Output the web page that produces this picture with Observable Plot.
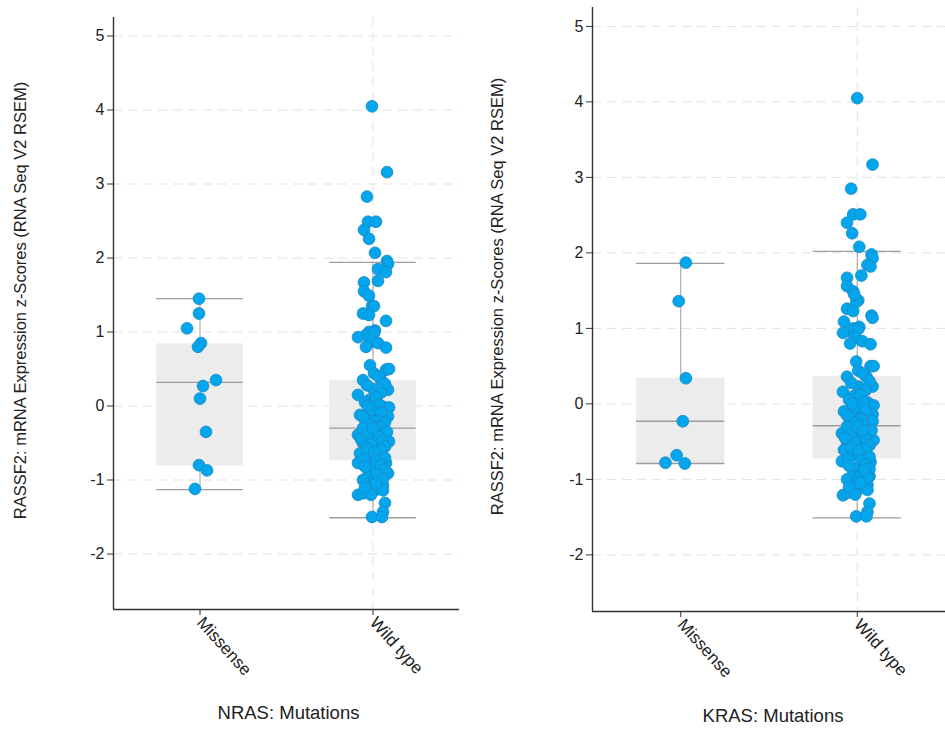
<!DOCTYPE html>
<html>
<head>
<meta charset="utf-8">
<script src="https://cdn.jsdelivr.net/npm/d3@7"></script>
<script src="https://cdn.jsdelivr.net/npm/@observablehq/plot@0.6"></script>
<style>
  body { margin: 0; background: #fff; }
  #wrap { position: relative; width: 945px; height: 739px; font-family: "Liberation Sans", Arial, sans-serif; }
  #wrap > svg { position: absolute; top: 0; }
</style>
</head>
<body>
<div id="wrap"></div>
<script>
// ---------- data ----------
const categories = ["Missense", "Wild type"];
const yTicks = [-2, -1, 0, 1, 2, 3, 4, 5];
const yLabel = "RASSF2: mRNA Expression z-Scores (RNA Seq V2 RSEM)";
const panelTitles = ["NRAS: Mutations", "KRAS: Mutations"];
const gridCategories = ["Wild type"];

// NRAS panel
const nrasMissense = [1.45, 1.25, 1.05, 0.85, 0.80, 0.35, 0.27, 0.10, -0.35, -0.80, -0.87, -1.12];
const nrasMissenseJitter = [-1, -1, -13, 1, -2, 16, 3, 0, 6, -1, 7, -5];
const nrasWild = [4.05, 3.16, 2.83, 2.49, 2.49, 2.38, 2.26, 2.07, 1.96, 1.92,
  1.85, 1.81, 1.69, 1.67, 1.55, 1.49, 1.35, 1.35, 1.25, 1.23,
  1.15, 1.02, 1.00, 0.96, 0.93, 0.99, 0.87, 0.85, 0.80, 0.79,
  0.55, 0.44, 0.49, 0.50, 0.35, 0.35, 0.22, 0.23, 0.15, 0.08,
  -0.01, -0.02, -0.12, -0.10, -0.14, -0.39, -0.32, -0.39, -0.44, -0.50,
  -0.55, -0.48, -0.64, -0.68, -0.66, -0.77, -0.77, -0.84, -0.89, -0.91,
  -0.95, -1.02, -1.07, -1.09, -1.14, -1.14, -1.20, -1.18, -1.20, -1.31,
  -1.43, -1.50, -1.50,
  0.40, 0.30, 0.28, 0.18, 0.12, 0.05, 0.02, -0.05, -0.08, -0.18,
  -0.20, -0.22, -0.25, -0.28, -0.30, -0.33, -0.35, -0.40, -0.42, -0.45,
  -0.47, -0.52, -0.55, -0.58, -0.60, -0.62, -0.70, -0.72, -0.75, -0.80,
  -0.82, -0.86, -0.93, -0.98, -1.00, -1.05, -1.10, -0.30, -0.15, 0.00];
const nrasWildJitter = [-1, 14, -6, -5, 3, -9, -4, 2, 14, 15,
  5, 13, 5, -9, -9, -4, -1, 1, -10, -4,
  13, 2, -4, -7, -15, 1, -2, 5, -7, 13,
  -3, 1, 13, 16, -10, 8, 15, 0, -15, -4,
  10, 16, -13, 1, 15, -15, -5, 11, 1, -10,
  4, 16, -13, -4, 6, -15, 13, -2, 8, 15,
  -5, 0, 10, -5, 2, 10, -15, -10, -2, 12,
  10, -1, 9,
  6, 12, -6, 8, 3, -8, 6, -2, 8, -8,
  4, 12, -3, 7, -10, 2, 14, -6, 6, -12,
  9, -2, 12, -6, 8, 1, 12, -9, 4, 8,
  -8, 12, 4, 10, -10, 3, -8, 0, -10, -5];
const nrasQ1 = [-0.81, -0.74];
const nrasMedian = [0.32, -0.30];
const nrasQ3 = [0.84, 0.34];
const nrasLow = [-1.13, -1.51];
const nrasHigh = [1.45, 1.94];

// KRAS panel
const krasMissense = [1.87, 1.36, 0.34, -0.23, -0.68, -0.78, -0.79];
const krasMissenseJitter = [5, -2, 5, 2, -4, -15, 4];
const krasWild = [4.05, 3.17, 2.85, 2.51, 2.51, 2.40, 2.26, 2.08, 1.98, 1.93,
  1.84, 1.82, 1.70, 1.67, 1.56, 1.49, 1.37, 1.35, 1.26, 1.23,
  1.17, 1.02, 1.00, 0.96, 0.94, 0.99, 0.87, 0.83, 0.80, 0.79,
  0.56, 0.44, 0.50, 0.50, 0.36, 0.36, 0.23, 0.23, 0.16, 0.10,
  0.02, -0.02, -0.10, -0.10, -0.14, -0.39, -0.32, -0.39, -0.44, -0.50,
  -0.55, -0.48, -0.61, -0.68, -0.66, -0.76, -0.77, -0.85, -0.89, -0.96,
  -0.95, -1.02, -1.07, -1.12, -1.12, -1.14, -1.21, -1.18, -1.20, -1.32,
  -1.43, -1.49, -1.49,
  0.40, 0.30, 0.28, 0.18, 0.12, 0.05, 0.02, -0.05, -0.08, -0.18,
  -0.20, -0.23, -0.25, -0.28, -0.30, -0.33, -0.35, -0.40, -0.42, -0.45,
  -0.47, -0.52, -0.55, -0.58, -0.60, -0.62, -0.70, -0.72, -0.75, -0.80,
  -0.82, -0.86, -0.93, -0.98, -1.00, -1.05, -1.10, -0.30, -0.15, 0.00,
  1.45, 1.09, 1.14, -0.35, -0.87];
const krasWildJitter = [0, 15, -6, -4, 3, -10, -5, 2, 14, 15,
  10, 13, 4, -10, -10, -4, 1, -1, -10, -4,
  14, 2, -4, -7, -14, 1, -2, 5, -7, 13,
  -1, 1, 13, 16, -10, 9, 15, 1, -14, -4,
  10, 16, -13, 1, 15, -15, -5, 11, 1, -10,
  4, 16, -13, -4, 6, -15, 13, -2, 8, 12,
  -5, 0, 10, -5, 2, 10, -14, -10, -2, 12,
  10, -1, 9,
  6, 12, -6, 8, 3, -8, 6, -2, 8, -8,
  4, 15, -3, 7, -10, 2, 14, -6, 6, -12,
  9, -2, 12, -6, 8, 1, 12, -9, 4, 8,
  -8, 12, 4, 10, -10, 3, -8, 0, -10, -5,
  -3, -13, 15, 6, 7];
const krasQ1 = [-0.79, -0.73];
const krasMedian = [-0.23, -0.29];
const krasQ3 = [0.34, 0.36];
const krasLow = [-0.79, -1.51];
const krasHigh = [1.86, 2.02];

// ---------- chart ----------
const font = "Liberation Sans, Arial, Helvetica, sans-serif";

function makePoints(groups) {
  const out = [];
  groups.forEach(([vals, jit], i) => vals.forEach((v, k) => out.push({i, v, j: jit[k] / 173})));
  return out;
}
function makeStats(q1, med, q3, lo, hi) {
  return categories.map((c, i) => ({i, q1: q1[i], median: med[i], q3: q3[i], lo: lo[i], hi: hi[i]}));
}

function panel(o) {
  const half = 0.25;
  const gridRows = gridCategories.map(c => ({gx: categories.indexOf(c)}));
  return Plot.plot({
    width: o.width, height: 739,
    marginLeft: o.ml, marginRight: o.mr, marginTop: o.mt, marginBottom: 739 - o.bottom,
    style: {fontFamily: font, fontSize: "16px", color: "#222", background: "transparent", overflow: "visible"},
    x: {type: "linear", domain: [-0.5, 1.5], axis: null},
    y: {domain: [-2.75, 5.25], axis: null},
    marks: [
      Plot.ruleY(yTicks, {stroke: "#e2e2e2", strokeDasharray: "9,6", strokeWidth: 1}),
      Plot.ruleX(gridRows, {x: "gx", stroke: "#e2e2e2", strokeDasharray: "9,6", strokeWidth: 1}),
      Plot.ruleX(o.stats, {x: "i", y1: "lo", y2: "hi", stroke: "#9d9d9d", strokeWidth: 1}),
      Plot.rect(o.stats, {x1: d => d.i - half, x2: d => d.i + half, y1: "q1", y2: "q3", fill: "#ececec"}),
      Plot.ruleY(o.stats, {y: "median", x1: d => d.i - half, x2: d => d.i + half, stroke: "#9d9d9d", strokeWidth: 1.3}),
      Plot.ruleY(o.stats, {y: "lo", x1: d => d.i - half, x2: d => d.i + half, stroke: "#9d9d9d", strokeWidth: 1.3}),
      Plot.ruleY(o.stats, {y: "hi", x1: d => d.i - half, x2: d => d.i + half, stroke: "#9d9d9d", strokeWidth: 1.3}),
      Plot.dot(o.points, {x: d => d.i + d.j, y: "v", r: 5.9, fill: "#03a6ec", stroke: "#1b88c4", strokeWidth: 0.8}),
      Plot.ruleX([-0.5], {stroke: "#333", strokeWidth: 1.4}),
      Plot.ruleY([-2.75], {stroke: "#333", strokeWidth: 1.4}),
      Plot.axisY(yTicks, {tickSize: 6, tickPadding: 3, tickFormat: d => String(d), fontSize: 16, label: null, stroke: "#333", grid: false}),
      Plot.axisX([0, 1], {tickSize: 6, tickPadding: 4, tickFormat: i => categories[i], tickRotate: 48, fontSize: 17, label: null, stroke: "#333", grid: false}),
      Plot.text([yLabel], {frameAnchor: "left", textAnchor: "middle", dx: o.labelDx, dy: o.labelDy, rotate: -90, fontSize: 16.5, fill: "#222"}),
      Plot.text([o.title], {frameAnchor: "bottom", textAnchor: "middle", dx: o.titleDx, dy: o.titleDy, fontSize: 18.5, fill: "#222"})
    ]
  });
}

const wrap = document.getElementById("wrap");

const left = panel({
  width: 472, ml: 113, mr: 13, mt: 17, bottom: 609,
  points: makePoints([[nrasMissense, nrasMissenseJitter], [nrasWild, nrasWildJitter]]),
  stats: makeStats(nrasQ1, nrasMedian, nrasQ3, nrasLow, nrasHigh),
  title: panelTitles[0], titleDx: 2, titleDy: 109, labelDx: -93, labelDy: -13
});
left.style.left = "0px";
wrap.appendChild(left);

const right = panel({
  width: 473, ml: 120, mr: 0, mt: 7, bottom: 611,
  points: makePoints([[krasMissense, krasMissenseJitter], [krasWild, krasWildJitter]]),
  stats: makeStats(krasQ1, krasMedian, krasQ3, krasLow, krasHigh),
  title: panelTitles[1], titleDx: 4, titleDy: 110, labelDx: -95, labelDy: -13
});
right.style.left = "472px";
wrap.appendChild(right);
</script>
</body>
</html>
